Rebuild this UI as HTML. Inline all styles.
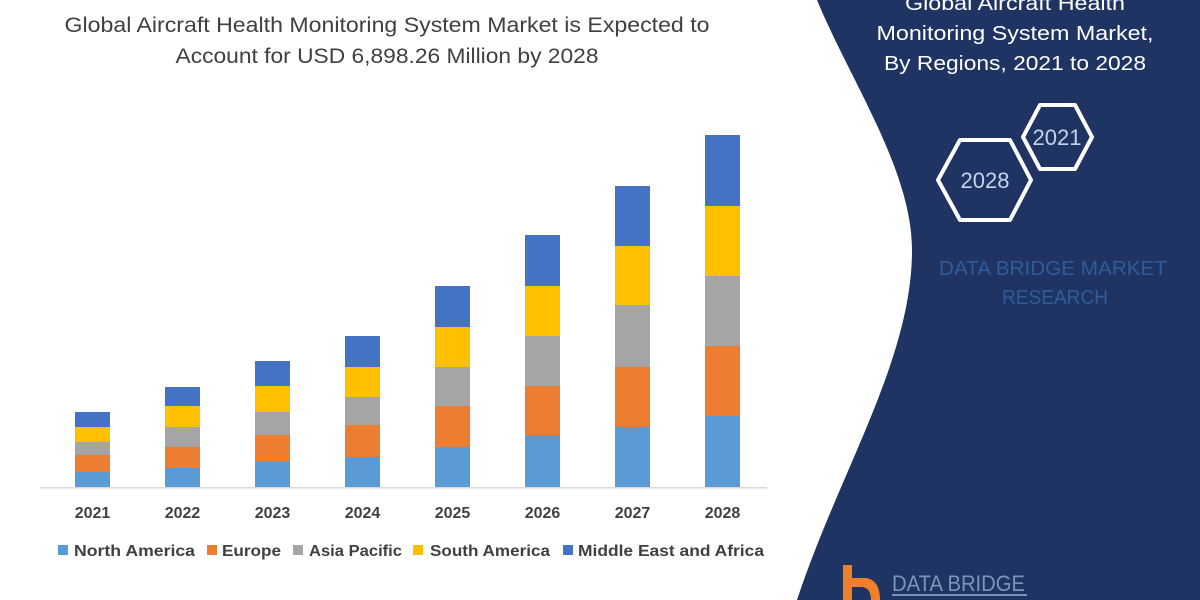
<!DOCTYPE html>
<html><head><meta charset="utf-8"><style>
html,body{margin:0;padding:0;background:#fff;width:1200px;height:600px;overflow:hidden}
svg{display:block;font-family:"Liberation Sans",sans-serif}
</style></head><body>
<svg width="1200" height="600" viewBox="0 0 1200 600" xmlns="http://www.w3.org/2000/svg">
<rect width="1200" height="600" fill="#fff"/>
<!-- right panel -->
<path d="M817,0 L1200,0 L1200,600 L797,600 C840,470 912,360 912,250 C912,170 850,80 817,0 Z" fill="#1f3462"/>
<text x="1015" y="10" fill="#fff" font-size="20" text-anchor="middle" textLength="220" lengthAdjust="spacingAndGlyphs">Global Aircraft Health</text>
<text x="1015" y="40" fill="#fff" font-size="20" text-anchor="middle" textLength="277" lengthAdjust="spacingAndGlyphs">Monitoring System Market,</text>
<text x="1015" y="70" fill="#fff" font-size="20" text-anchor="middle" textLength="262" lengthAdjust="spacingAndGlyphs">By Regions,  2021 to 2028</text>
<polygon points="1023,137 1040,105 1075,105 1092,137 1075,169 1040,169" fill="none" stroke="#fff" stroke-width="4" stroke-linejoin="round"/>
<polygon points="938,180 960,140 1010,140 1031,180 1010,220 960,220" fill="none" stroke="#fff" stroke-width="4" stroke-linejoin="round"/>
<text x="1057" y="145" fill="#c5d3ec" font-size="22" text-anchor="middle">2021</text>
<text x="985" y="188" fill="#c5d3ec" font-size="22" text-anchor="middle">2028</text>
<text x="1053" y="275" fill="#2f5c98" font-size="20" text-anchor="middle" textLength="228" lengthAdjust="spacingAndGlyphs">DATA BRIDGE MARKET</text>
<text x="1055" y="304" fill="#2f5c98" font-size="20" text-anchor="middle" textLength="106" lengthAdjust="spacingAndGlyphs">RESEARCH</text>
<!-- logo -->
<path d="M843,565 L852,565 L852,578 L866,578 Q880,580 880,600 L871,600 Q871,588 862,587 L852,587 L852,600 L843,600 Z" fill="#f07f2a"/>
<text x="892" y="591" fill="#7f93b8" font-size="22" textLength="133" lengthAdjust="spacingAndGlyphs">DATA BRIDGE</text>
<rect x="892" y="594" width="135" height="2" fill="#7f93b8"/>
<!-- title -->
<text x="387" y="32" fill="#404040" font-size="21" text-anchor="middle" textLength="645" lengthAdjust="spacingAndGlyphs">Global Aircraft Health Monitoring System Market is Expected to</text>
<text x="387" y="63" fill="#404040" font-size="21" text-anchor="middle" textLength="423" lengthAdjust="spacingAndGlyphs">Account for USD 6,898.26 Million by 2028</text>
<!-- bars -->
<g>
<!-- x, top, sa, ap, eu, na -->
<rect x="75" y="472" width="35" height="15" fill="#5b9bd5"/><rect x="75" y="455" width="35" height="17" fill="#ed7d31"/><rect x="75" y="442" width="35" height="13" fill="#a5a5a5"/><rect x="75" y="427" width="35" height="15" fill="#ffc000"/><rect x="75" y="412" width="35" height="15" fill="#4472c4"/>
<rect x="165" y="468" width="35" height="19" fill="#5b9bd5"/><rect x="165" y="447" width="35" height="21" fill="#ed7d31"/><rect x="165" y="427" width="35" height="20" fill="#a5a5a5"/><rect x="165" y="406" width="35" height="21" fill="#ffc000"/><rect x="165" y="387" width="35" height="19" fill="#4472c4"/>
<rect x="255" y="461" width="35" height="26" fill="#5b9bd5"/><rect x="255" y="435" width="35" height="26" fill="#ed7d31"/><rect x="255" y="412" width="35" height="23" fill="#a5a5a5"/><rect x="255" y="386" width="35" height="26" fill="#ffc000"/><rect x="255" y="361" width="35" height="25" fill="#4472c4"/>
<rect x="345" y="457" width="35" height="30" fill="#5b9bd5"/><rect x="345" y="425" width="35" height="32" fill="#ed7d31"/><rect x="345" y="397" width="35" height="28" fill="#a5a5a5"/><rect x="345" y="367" width="35" height="30" fill="#ffc000"/><rect x="345" y="336" width="35" height="31" fill="#4472c4"/>
<rect x="435" y="447" width="35" height="40" fill="#5b9bd5"/><rect x="435" y="406" width="35" height="41" fill="#ed7d31"/><rect x="435" y="367" width="35" height="39" fill="#a5a5a5"/><rect x="435" y="327" width="35" height="40" fill="#ffc000"/><rect x="435" y="286" width="35" height="41" fill="#4472c4"/>
<rect x="525" y="435" width="35" height="52" fill="#5b9bd5"/><rect x="525" y="386" width="35" height="49" fill="#ed7d31"/><rect x="525" y="336" width="35" height="50" fill="#a5a5a5"/><rect x="525" y="286" width="35" height="50" fill="#ffc000"/><rect x="525" y="235" width="35" height="51" fill="#4472c4"/>
<rect x="615" y="427" width="35" height="60" fill="#5b9bd5"/><rect x="615" y="367" width="35" height="60" fill="#ed7d31"/><rect x="615" y="305" width="35" height="62" fill="#a5a5a5"/><rect x="615" y="246" width="35" height="59" fill="#ffc000"/><rect x="615" y="186" width="35" height="60" fill="#4472c4"/>
<rect x="705" y="416" width="35" height="71" fill="#5b9bd5"/><rect x="705" y="346" width="35" height="70" fill="#ed7d31"/><rect x="705" y="276" width="35" height="70" fill="#a5a5a5"/><rect x="705" y="206" width="35" height="70" fill="#ffc000"/><rect x="705" y="135" width="35" height="71" fill="#4472c4"/>
</g>
<rect x="40" y="487" width="727" height="1.5" fill="#d9d9d9"/>
<g fill="#404040" font-size="16" font-weight="bold" text-anchor="middle">
<text x="92.5" y="518">2021</text><text x="182.5" y="518">2022</text><text x="272.5" y="518">2023</text><text x="362.5" y="518">2024</text><text x="452.5" y="518">2025</text><text x="542.5" y="518">2026</text><text x="632.5" y="518">2027</text><text x="722.5" y="518">2028</text>
</g>
<!-- legend -->
<g font-size="16" font-weight="bold" fill="#404040">
<rect x="58" y="545" width="10" height="10" fill="#5b9bd5"/><text x="74" y="556" textLength="121" lengthAdjust="spacingAndGlyphs">North America</text>
<rect x="207" y="545" width="10" height="10" fill="#ed7d31"/><text x="222" y="556" textLength="59" lengthAdjust="spacingAndGlyphs">Europe</text>
<rect x="293" y="545" width="10" height="10" fill="#a5a5a5"/><text x="309" y="556" textLength="93" lengthAdjust="spacingAndGlyphs">Asia Pacific</text>
<rect x="413" y="545" width="10" height="10" fill="#ffc000"/><text x="430" y="556" textLength="120" lengthAdjust="spacingAndGlyphs">South America</text>
<rect x="563" y="545" width="10" height="10" fill="#4472c4"/><text x="578" y="556" textLength="186" lengthAdjust="spacingAndGlyphs">Middle East and Africa</text>
</g>
</svg>
</body></html>
